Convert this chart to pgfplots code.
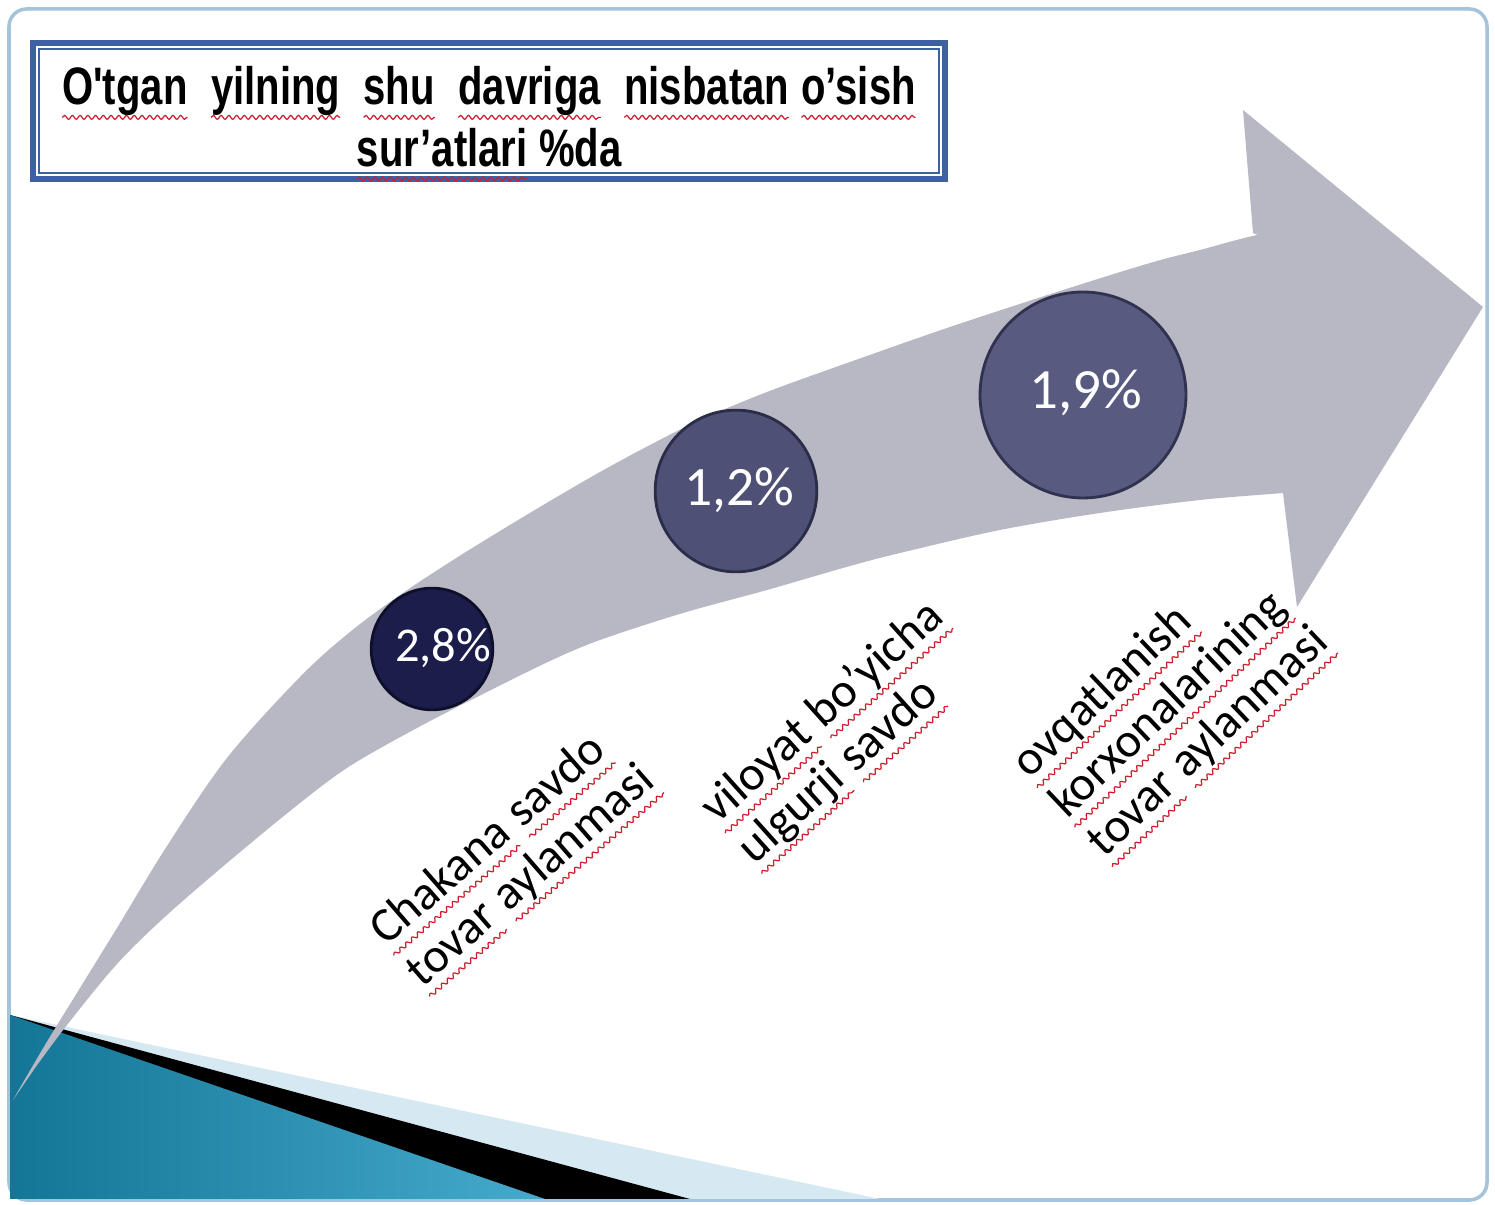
\documentclass[border=0pt]{standalone}
\usepackage{pgfplots}
\pgfplotsset{compat=1.18}
\usetikzlibrary{decorations.pathmorphing}
\usepackage{fontspec}
\newfontfamily\titlefont[FakeStretch=0.76]{Liberation Sans}
\newfontfamily\bodyfont{Carlito}
\definecolor{arrowgray}{RGB}{184,184,196}
\definecolor{framecol}{RGB}{165,195,218}
\definecolor{boxblue}{RGB}{62,98,160}
\definecolor{lightband}{RGB}{214,232,241}
\definecolor{tealdark}{RGB}{20,118,150}
\definecolor{teallight}{RGB}{70,170,205}
\definecolor{cA}{RGB}{28,29,74}
\definecolor{cAd}{RGB}{14,15,42}
\definecolor{cB}{RGB}{78,80,117}
\definecolor{cBd}{RGB}{42,44,72}
\definecolor{cC}{RGB}{88,90,128}
\definecolor{cCd}{RGB}{48,50,80}
\definecolor{squig}{RGB}{205,30,45}
\newcommand\sq[2][3.2pt]{\tikz[baseline=(w.base)]{\node[inner sep=0pt, outer sep=0pt, anchor=base](w){#2};
  \draw[squig, line width=0.35pt, decorate, decoration={snake, amplitude=0.55pt, segment length=2.2pt}]
   ([yshift=-#1]w.base west) -- ([yshift=-#1]w.base east);}}
\begin{document}
\begin{tikzpicture}
\begin{axis}[
  width=14.95cm, height=12.05cm, scale only axis,
  xmin=0, xmax=1495, ymin=0, ymax=1205, y dir=reverse,
  hide axis, clip=false]
% slide background and frame
\addplot[fill=white, draw=none] coordinates {(0,0) (1495,0) (1495,1205) (0,1205)} -- cycle;
\addplot[fill=white, draw=framecol, line width=1pt, rounded corners=5pt] coordinates {(9,9) (1487,9) (1487,1200) (9,1200)} -- cycle;
% bottom-left decoration
\addplot[fill=lightband, draw=none] coordinates {(10,1015) (880,1199) (10,1199)} -- cycle;
\addplot[fill=black, draw=none] coordinates {(10,1015) (690,1199) (10,1199)} -- cycle;
\addplot[left color=tealdark, right color=teallight, draw=none] coordinates {(10,1015) (545,1199) (10,1199)} -- cycle;
% curved arrow: body (smooth, its end hidden inside the head) and head
\addplot[fill=arrowgray, draw=none, smooth, tension=0.55] coordinates {
 (13,1100) (45,1045) (80,988) (117,928) (167,846) (227,758) (300,677)
 (350,632) (400,595) (450,562) (500,531) (550,501) (600,472)
 (650,445) (700,420) (767,392) (850,362) (950,327) (1060,291) (1150,263)
 (1200,250) (1253,236) (1310,226) (1350,360) (1310,490) (1283,493)
 (1200,500) (1100,513) (1000,530) (900,553) (850,566) (767,590) (683,613)
 (600,640) (550,661) (483,694) (417,728) (350,766) (300,803) (233,858)
 (167,915) (117,964) (67,1025) (35,1068)} -- cycle;
\addplot[fill=arrowgray, draw=none] coordinates {
 (1253,233) (1243,110) (1483,307) (1297,607) (1283,493) (1270,480) (1270,240)} -- cycle;
% title box
\addplot[fill=white, draw=boxblue, line width=1.5pt] coordinates {(33,43) (945,43) (945,179) (33,179)} -- cycle;
\addplot[draw=boxblue, line width=0.4pt] coordinates {(39,49) (939,49) (939,173) (39,173)} -- cycle;
\node[font=\titlefont\bfseries\fontsize{15}{17.5}\selectfont, align=center] at (axis cs:489,124)
 {\sq[3.6pt]{O'tgan}~ \sq[3.6pt]{yilning}~ \sq[3.6pt]{shu}~ \sq[3.6pt]{davriga}~ \sq[3.6pt]{nisbatan} \sq[3.6pt]{o’sish}\\ \sq[3.6pt]{sur’atlari} \%da};
% growth rates (%)
\addplot[only marks, mark=*, mark size=17.3pt, mark options={fill=cA, draw=cAd, line width=0.8pt}] coordinates {(432,649)};
\addplot[only marks, mark=*, mark size=23pt, mark options={fill=cB, draw=cBd, line width=0.8pt}] coordinates {(736,491)};
\addplot[only marks, mark=*, mark size=29.3pt, mark options={fill=cC, draw=cCd, line width=0.8pt}] coordinates {(1083,395)};
\addplot[only marks, mark=text, text mark={2,8\%}, text mark as node=true,
  text mark style={text=white, font=\bodyfont\fontsize{13.8}{15}\selectfont}] coordinates {(443,648)};
\addplot[only marks, mark=text, text mark={1,2\%}, text mark as node=true,
  text mark style={text=white, font=\bodyfont\fontsize{15.8}{17}\selectfont}] coordinates {(739,490)};
\addplot[only marks, mark=text, text mark={1,9\%}, text mark as node=true,
  text mark style={text=white, font=\bodyfont\fontsize{16.2}{17}\selectfont}] coordinates {(1086,393)};
% category labels
\node[rotate=41, align=left, font=\bodyfont\fontsize{13.8}{15.5}\selectfont] at (axis cs:515,858)
 {\sq{Chakana} \sq{savdo}\\\sq{tovar} \sq{aylanmasi}};
\node[rotate=42, align=left, font=\bodyfont\fontsize{13.8}{15.5}\selectfont] at (axis cs:843,735)
 {\sq{viloyat} \sq{bo’yicha}\\\sq{ulgurji} \sq{savdo}};
\node[rotate=43.5, align=left, font=\bodyfont\fontsize{13.8}{15.5}\selectfont] at (axis cs:1173,705)
 {\sq{ovqatlanish}\\\sq{korxonalarining}\\\sq{tovar} \sq{aylanmasi}};
\end{axis}
\end{tikzpicture}
\end{document}
